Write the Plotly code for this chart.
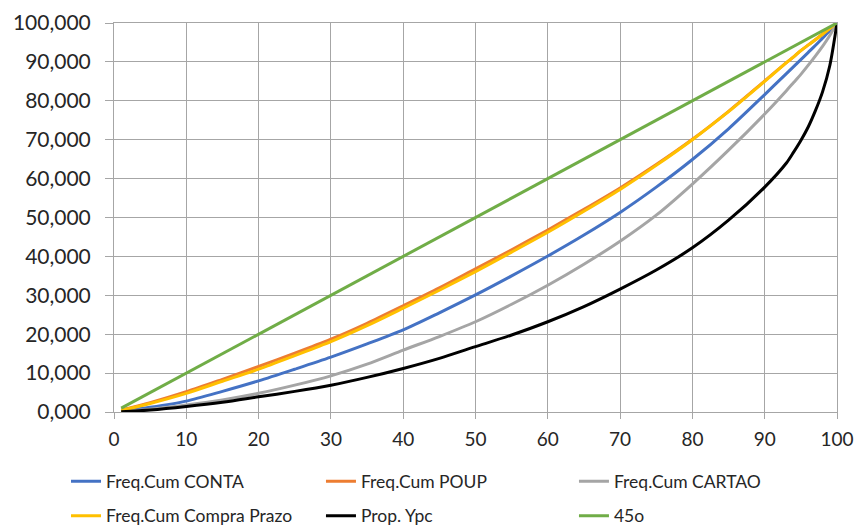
import plotly.graph_objects as go

x = [1, 5, 10, 15, 20, 25, 30, 35, 40, 45, 50, 55, 60, 65, 70, 75, 80, 85, 90, 93, 94, 95, 96, 97, 98, 99, 100]

conta = [0.2, 1.2, 2.8, 5.3, 8.0, 11.0, 14.1, 17.5, 21.1, 25.5, 30.1, 35.0, 40.1, 45.5, 51.3, 57.8, 64.9, 72.8, 81.6, 87.0, 88.8, 90.6, 92.4, 94.2, 96.1, 98.0, 100.0]
poup = [0.5, 2.4, 5.2, 8.4, 11.7, 15.1, 18.7, 22.8, 27.3, 31.9, 36.8, 41.7, 46.8, 52.1, 57.6, 63.6, 70.1, 77.3, 85.1, 89.8, 91.3, 92.9, 94.3, 95.7, 97.1, 98.6, 100.0]
cartao = [0.1, 0.7, 1.8, 3.1, 4.8, 6.9, 9.3, 12.3, 15.9, 19.4, 23.2, 27.7, 32.6, 38.0, 43.9, 50.6, 58.6, 67.3, 76.6, 82.6, 84.7, 86.8, 89.1, 91.5, 94.0, 96.8, 100.0]
prazo = [0.4, 2.2, 4.8, 7.9, 11.0, 14.5, 18.1, 22.2, 26.7, 31.3, 36.1, 41.1, 46.2, 51.6, 57.2, 63.4, 70.0, 77.2, 85.0, 89.8, 91.3, 92.9, 94.3, 95.7, 97.1, 98.6, 100.0]
ypc = [0.05, 0.5, 1.4, 2.5, 3.9, 5.3, 6.9, 8.9, 11.2, 13.8, 16.8, 19.8, 23.2, 27.1, 31.6, 36.5, 42.2, 49.3, 57.8, 64.0, 66.8, 69.8, 73.2, 77.4, 82.3, 89.0, 100.0]
x45 = [1, 100]
y45 = [1, 100]

names = ["Freq.Cum CONTA", "Freq.Cum POUP", "Freq.Cum CARTAO", "Freq.Cum Compra Prazo", "Prop. Ypc", "45o"]
colors = ["#4472C4", "#ED7D31", "#A5A5A5", "#FFC000", "#000000", "#70AD47"]

x_ticks = [0, 10, 20, 30, 40, 50, 60, 70, 80, 90, 100]
x_ticktext = ["0", "10", "20", "30", "40", "50", "60", "70", "80", "90", "100"]
y_ticks = [0, 10, 20, 30, 40, 50, 60, 70, 80, 90, 100]
y_ticktext = ["0,000", "10,000", "20,000", "30,000", "40,000", "50,000", "60,000", "70,000", "80,000", "90,000", "100,000"]

series = [(x, conta), (x, poup), (x, cartao), (x, prazo), (x, ypc), (x45, y45)]

# legend grid: 3 columns x 2 rows (container coordinates)
legend_cols = [0.0772, 0.3754, 0.6713]
legend_rows = [0.124, 0.059]

grid = "#A6A6A6"
font_family = "Lato, 'Open Sans', sans-serif"
text_color = "#262626"

fig = go.Figure()
legend_layout = {}
for i, ((xs, ys), name, col) in enumerate(zip(series, names, colors)):
    lg = "legend" if i == 0 else f"legend{i + 1}"
    fig.add_trace(go.Scatter(
        x=xs, y=ys, name=name, mode="lines", legend=lg,
        line=dict(color=col, width=3, shape="spline", smoothing=0.8),
    ))
    legend_layout[lg] = dict(
        orientation="h", xref="container", yref="container",
        xanchor="left", yanchor="top",
        x=legend_cols[i % 3], y=legend_rows[i // 3],
        font=dict(size=17.5, color=text_color, family=font_family),
        bgcolor="rgba(0,0,0,0)",
    )

fig.update_layout(
    width=855, height=529,
    margin=dict(l=114, r=18, t=23, b=117, autoexpand=False),
    paper_bgcolor="white", plot_bgcolor="white",
    font=dict(family=font_family, color=text_color),
    showlegend=True,
    xaxis=dict(
        range=[0, 100], tickvals=x_ticks, ticktext=x_ticktext,
        showgrid=True, gridcolor=grid, gridwidth=1,
        showline=True, linecolor=grid, linewidth=1, mirror=True,
        ticks="outside", ticklen=6, tickcolor=grid, ticklabelstandoff=4,
        tickfont=dict(size=19), zeroline=False, fixedrange=True,
    ),
    yaxis=dict(
        range=[0, 100], tickvals=y_ticks, ticktext=y_ticktext,
        showgrid=True, gridcolor=grid, gridwidth=1,
        showline=True, linecolor=grid, linewidth=1, mirror=True,
        ticks="outside", ticklen=8, tickcolor=grid, ticklabelstandoff=10,
        tickfont=dict(size=21), zeroline=False, fixedrange=True,
    ),
    **legend_layout,
)

fig.write_html("out.html")
